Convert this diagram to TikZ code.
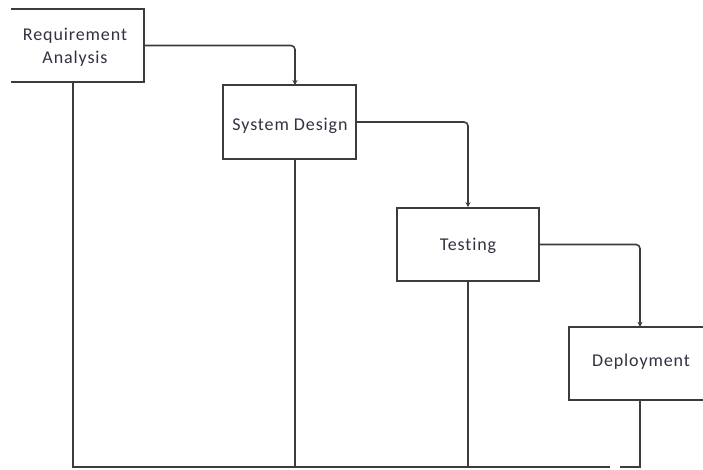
\documentclass[tikz,border=0pt]{standalone}
\usepackage{fontspec}
\setmainfont{Carlito}[Ligatures=NoCommon,LetterSpace=5]
\usetikzlibrary{arrows.meta}
\definecolor{ln}{RGB}{60,60,60}
\definecolor{tx}{RGB}{50,50,65}
\begin{document}
\begin{tikzpicture}[x=1pt,y=-1pt,
  lbl/.style={inner sep=0pt,text=tx,font=\fontsize{18}{23}\selectfont,align=center},
  box/.style={draw=ln,line width=1.6pt,rectangle,inner sep=0pt},
  wire/.style={draw=ln,line width=1.6pt},
  flow/.style={wire,rounded corners=4pt,-{Stealth[length=5pt,width=5pt]}}]
\useasboundingbox[fill=white] (0,0) rectangle (703,469);
% box 1 (left side cut off)
\node[inner sep=0pt,minimum width=133pt,minimum height=73pt] (b1) at (77.5,45.5) {};
\draw[wire] (b1.north west) -- (b1.north east) -- (b1.south east) -- (b1.south west);
\node[lbl] (t1) at (75,47) {Requirement\\Analysis};
% box 2
\node[box,minimum width=133pt,minimum height=74pt] (b2) at (289.5,122) {};
\node[lbl] (t2) at (290,126) {System Design};
% box 3
\node[box,minimum width=142pt,minimum height=73pt] (b3) at (468,244.5) {};
\node[lbl] (t3) at (468,246) {Testing};
% box 4 (right side cut off)
\node[inner sep=0pt,minimum width=142pt,minimum height=73pt] (b4) at (640,363.5) {};
\draw[wire] (b4.north east) -- (b4.north west) -- (b4.south west) -- (b4.south east);
\node[lbl] (t4) at (641,362) {Deployment};
% anchor points
\coordinate (b2in) at (295,85);
\coordinate (b2out) at (295,159);
\coordinate (b1out) at (73,82);
\coordinate (bl) at (73,467);
\coordinate (gapL) at (610,467);
\coordinate (gapR) at (620,467);
\coordinate (b4dn) at (640,467);
% forward flow
\draw[flow] (b1.east) -| (b2in);
\draw[flow] (b2.east) -| (b3.north);
\draw[flow] (b3.east) -| (b4.north);
% return lines
\draw[wire] (b1out) -- (bl) -- (gapL);
\draw[wire] (b2out) -- (b2out |- bl);
\draw[wire] (b3.south) -- (b3.south |- bl);
\draw[wire] (b4.south) -- (b4dn) -- (gapR);
\end{tikzpicture}
\end{document}
